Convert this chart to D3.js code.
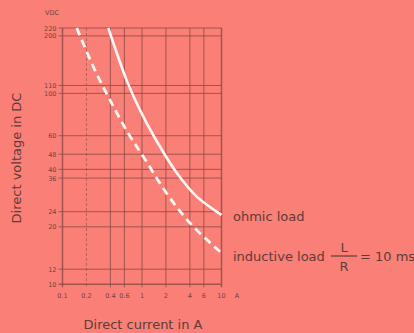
<!DOCTYPE html>
<html lang="en">
<head>
  <meta charset="UTF-8">
  <title>DC load limit curve</title>
  <script src="https://d3js.org/d3.v7.min.js"></script>
  <style>
    body { margin: 0; background-color: #fa7f77; }
    svg { display: block; font-family: "DejaVu Sans", "Liberation Sans", sans-serif; }
    .tick-label { font-size: 6.5px; fill: #6e4541; }
    .axis-label { font-size: 13px; fill: #5e3b38; }
    .note { font-size: 13px; fill: #5e3b38; }
    .grid line { stroke: #8d4b46; stroke-width: 1; opacity: 0.8; }
  </style>
</head>
<body>
  <svg width="414" height="333"></svg>
  <script>
    // Data
    const xTicks = [0.1, 0.2, 0.4, 0.6, 1, 2, 4, 6, 10];
    const xTickLabels = ["0.1", "0.2", "0.4", "0.6", "1", "2", "4", "6", "10"];
    const yTicks = [10, 12, 20, 24, 36, 40, 48, 60, 100, 110, 200, 220];

    // ohmic load (A, VDC)
    const ohmicCurrent = [0.377, 0.642, 0.944, 1.4, 2.73, 4.88, 10.0];
    const ohmicVoltage = [220, 117, 81.7, 60, 38.4, 28.8, 23.1];

    // inductive load L/R = 10 ms
    const inductiveCurrent = [0.151, 0.244, 0.396, 0.673, 1.04, 2.05, 4.02, 9.6];
    const inductiveVoltage = [220, 138, 92.2, 61.7, 46.6, 29.9, 20.9, 14.8];

    const svg = d3.select("svg");

    const x = d3.scaleLog().domain([0.1, 10]).range([62.5, 221.5]);
    const y = d3.scaleLog().domain([10, 220]).range([284.3, 28]);

    // Horizontal grid lines
    svg.append("g").attr("class", "grid")
      .selectAll("line")
      .data(yTicks)
      .enter().append("line")
      .attr("x1", x(0.1) - 4)
      .attr("x2", x(10))
      .attr("y1", d => y(d))
      .attr("y2", d => y(d))
      .style("stroke-width", d => d === 10 ? 1.6 : 1);

    // Vertical grid lines
    svg.append("g").attr("class", "grid")
      .selectAll("line")
      .data(xTicks)
      .enter().append("line")
      .attr("x1", d => x(d))
      .attr("x2", d => x(d))
      .attr("y1", y(220))
      .attr("y2", y(10) + 3)
      .style("stroke-dasharray", d => d === 0.2 ? "3,2" : null)
      .style("opacity", d => d === 0.2 ? 0.6 : null)
      .style("stroke-width", d => (d === 0.1 || d === 10) ? 1.5 : 1);

    // Tick labels
    svg.append("g")
      .selectAll("text")
      .data(yTicks)
      .enter().append("text")
      .attr("class", "tick-label")
      .attr("x", x(0.1) - 6)
      .attr("y", d => y(d) + 2.5)
      .attr("text-anchor", "end")
      .text(d => d);

    svg.append("g")
      .selectAll("text")
      .data(xTicks)
      .enter().append("text")
      .attr("class", "tick-label")
      .attr("x", d => x(d))
      .attr("y", 298)
      .attr("text-anchor", "middle")
      .text((d, i) => xTickLabels[i]);

    svg.append("text").attr("class", "tick-label")
      .attr("x", 237).attr("y", 298).attr("text-anchor", "middle").text("A");
    svg.append("text").attr("class", "tick-label")
      .attr("x", 52).attr("y", 15).attr("text-anchor", "middle").text("VDC");

    // Curves
    const line = d3.line()
      .x(d => x(d[0]))
      .y(d => y(d[1]))
      .curve(d3.curveCatmullRom.alpha(0.5));

    svg.append("path")
      .datum(d3.zip(ohmicCurrent, ohmicVoltage))
      .attr("d", line)
      .attr("fill", "none")
      .attr("stroke", "#fff6f2")
      .attr("stroke-width", 2.6);

    svg.append("path")
      .datum(d3.zip(inductiveCurrent, inductiveVoltage))
      .attr("d", line)
      .attr("fill", "none")
      .attr("stroke", "#fff6f2")
      .attr("stroke-width", 2.8)
      .attr("stroke-dasharray", "8,5");

    // Annotations
    svg.append("text").attr("class", "note")
      .attr("x", 233).attr("y", 221).text("ohmic load");
    svg.append("text").attr("class", "note")
      .attr("x", 233).attr("y", 261).text("inductive load");
    svg.append("text").attr("class", "note")
      .attr("x", 344).attr("y", 252).attr("text-anchor", "middle").text("L");
    svg.append("line")
      .attr("x1", 331).attr("x2", 357).attr("y1", 256).attr("y2", 256)
      .attr("stroke", "#5e3b38").attr("stroke-width", 1.2);
    svg.append("text").attr("class", "note")
      .attr("x", 344).attr("y", 271).attr("text-anchor", "middle").text("R");
    svg.append("text").attr("class", "note")
      .attr("x", 360).attr("y", 261).text("= 10 ms");

    // Axis titles
    svg.append("text").attr("class", "axis-label")
      .attr("transform", "translate(21,158) rotate(-90)")
      .attr("text-anchor", "middle")
      .text("Direct voltage in DC");
    svg.append("text").attr("class", "axis-label")
      .attr("x", 143).attr("y", 329)
      .attr("text-anchor", "middle")
      .text("Direct current in A");
  </script>
</body>
</html>
